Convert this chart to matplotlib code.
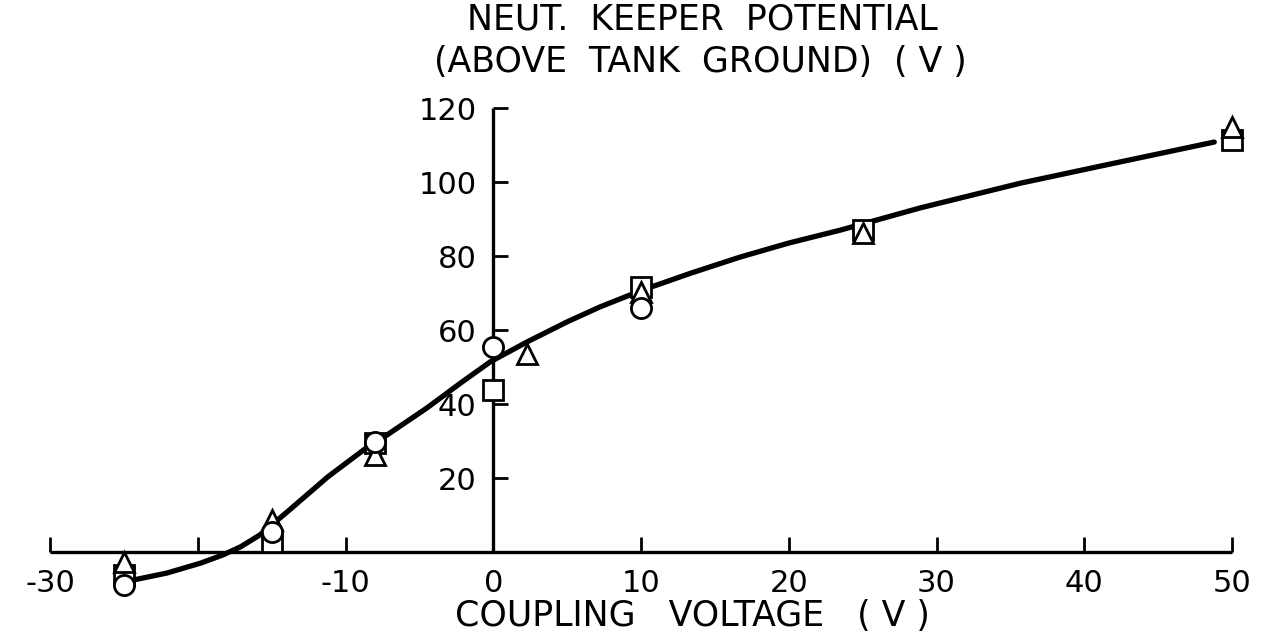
import matplotlib

matplotlib.use("Agg")

import matplotlib.pyplot as plt

# Ölçüm noktaları (üç sembol grubu)
circle_x = [-25, -15, -8, 0, 10]
circle_y = [-8.9, 5.4, 29.7, 55.4, 66.0]
square_x = [-25, -15, -8, 0, 10, 25, 50]
square_y = [-6.2, 2.7, 29.5, 43.8, 71.6, 87.0, 111.4]
tri_x = [-25, -15, -8, 2.3, 10, 25, 50]
tri_y = [-2.7, 8.6, 26.2, 53.5, 70.3, 86.2, 114.9]

# Elle çizilmiş eğri (resimden okunan noktalar)
curve_x = [-24.4, -22.1, -19.8, -18.3, -17.1, -15.8, -13.9, -11.2, -8.5, -7.2,
           -4.5, -2.2, -0.2, 2.3, 5.0, 7.2, 10.1, 13.4, 16.7, 20.0, 23.5, 28.9,
           35.7, 42.4, 48.8]
curve_y = [-7.6, -5.7, -3.0, -0.8, 1.4, 4.6, 11.0, 20.3, 28.4, 31.6,
           38.9, 45.7, 51.4, 56.8, 62.2, 66.2, 70.8, 75.4, 79.7, 83.5, 87.0, 93.0,
           99.7, 105.4, 110.8]

x_ticks = [-30, -20, -10, 0, 10, 20, 30, 40, 50]
x_labels = ["-30", "", "-10", "0", "10", "20", "30", "40", "50"]
y_ticks = [20, 40, 60, 80, 100, 120]

W, H = 1268, 644
fig = plt.figure(figsize=(W / 100, H / 100), dpi=100)
# eksen yerleşimi: x=-30 -> 50px, x=50 -> 1232px; y: 3.7 px/birim, 0 -> 552px
ax = fig.add_axes([50 / W, (H - 596.4) / H, 1182 / W, (596.4 - 100.6) / H])
ax.set_xlim(-30, 50)
ax.set_ylim(-12, 122)

for s in ("top", "right"):
    ax.spines[s].set_visible(False)
ax.spines["bottom"].set_position(("data", 0))
ax.spines["left"].set_position(("data", 0))
ax.spines["bottom"].set_bounds(-30, 50)
ax.spines["left"].set_bounds(0, 120)
for s in ("bottom", "left"):
    ax.spines[s].set_linewidth(2.4)
    ax.spines[s].set_capstyle("butt")

ax.set_xticks(x_ticks)
ax.set_xticklabels(x_labels)
ax.set_yticks(y_ticks)
ax.tick_params(axis="both", direction="in", length=11, width=2.0, color="black")
ax.tick_params(axis="x", pad=12, labelsize=22)
ax.tick_params(axis="y", pad=12, labelsize=22)

ax.plot(curve_x, curve_y, color="black", lw=3.8, solid_capstyle="round",
        solid_joinstyle="round", zorder=3)

# sıra: kare altta, üçgen ortada, daire üstte
mk = dict(ls="none", mfc="white", mec="black", mew=2.0, ms=14.5, zorder=4,
          clip_on=False)
ax.plot(square_x, square_y, marker="s", **mk)
ax.plot(tri_x, tri_y, marker="^", **mk)
ax.plot(circle_x, circle_y, marker="o", **mk)

fig.text(702 / W, 1 - 20 / H, "NEUT.  KEEPER  POTENTIAL", ha="center",
         va="center", fontsize=25)
fig.text(700 / W, 1 - 62 / H, "(ABOVE  TANK  GROUND)  ( V )", ha="center",
         va="center", fontsize=25)
fig.text(692 / W, 1 - 616 / H, "COUPLING   VOLTAGE   ( V )", ha="center",
         va="center", fontsize=25)

fig.savefig("out.png", dpi=100, facecolor="white")
